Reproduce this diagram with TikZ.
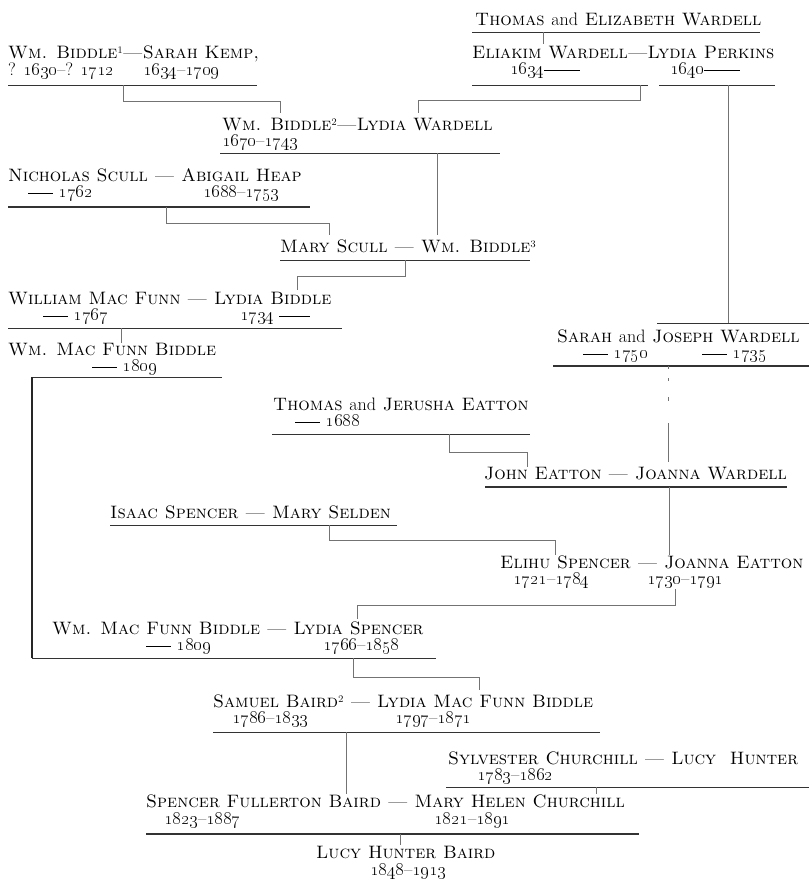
\RequirePackage{fix-cm}
\documentclass[tikz,border=0pt]{standalone}
\usepackage{tikz}

\newcommand\yr[1]{\oldstylenums{#1}}
\newcommand\chartfont{\fontsize{18}{20}\selectfont}
\newcommand\supnum[1]{{\fontsize{10}{10}\selectfont\raisebox{4.5pt}{#1}}}
\newcommand\ldash[1][25pt]{\rule[3.8pt]{#1}{0.6pt}}

\tikzset{
  person/.style={anchor=base west, inner sep=0pt, font=\chartfont\scshape},
  yrs/.style={anchor=base west, inner sep=0pt, font=\chartfont},
  uline/.style={line width=0.9pt, black!80},
  link/.style={line width=0.6pt, black!55},
  trunk/.style={line width=1.8pt, black!85}
}

\begin{document}
\begin{tikzpicture}[x=1pt,y=-1pt]
\useasboundingbox (0,0) rectangle (809,879);

% Wardell (top right)
\node[person] (twardell) at (475,25) {Thomas \textup{and} Elizabeth Wardell};
\draw[uline] (472,32) -- (760,32);
\coordinate (twardell-u) at (543,32);
\coordinate (ewardell-t) at (543,44);
\draw[link] (twardell-u) -- (ewardell-t);

\node[person] (ewardell) at (472,58) {Eliakim Wardell—Lydia Perkins};
\node[yrs] (ewardell-a) at (510,74) {\yr{1634}\ldash[36pt]};
\node[yrs] (ewardell-b) at (670,74) {\yr{1640}\ldash[36pt]};
\draw[uline] (472,85) -- (648,85);
\draw[uline] (659,85) -- (775,85);
\coordinate (ewardell-u) at (640,85);
\coordinate (ewardell-v) at (728,85);

% Biddle (top left)
\node[person] (biddleI) at (8,58) {Wm. Biddle\supnum{1}—Sarah Kemp,};
\node[yrs] (biddleI-a) at (8,75) {? \yr{1630}–? \yr{1712}};
\node[yrs] (biddleI-b) at (143,75) {\yr{1634}–\yr{1709}};
\draw[uline] (8,85) -- (257,85);
\coordinate (biddleI-u) at (123,85);

\node[person] (biddleII) at (222,130) {Wm. Biddle\supnum{2}—Lydia Wardell};
\node[yrs] (biddleII-a) at (222,146) {\yr{1670}–\yr{1743}};
\draw[uline] (220,153) -- (500,153);
\coordinate (biddleII-t) at (280,113);
\coordinate (biddleII-s) at (418,113);
\coordinate (biddleII-u) at (437,153);
\draw[link] (biddleI-u) -- ++(0,16) -| (biddleII-t);
\draw[link] (ewardell-u) -- ++(0,15) -| (biddleII-s);

% Scull
\node[person] (scull) at (8,181) {Nicholas Scull — Abigail Heap};
\node[yrs] (scull-a) at (28,197) {\ldash\ \yr{1762}};
\node[yrs] (scull-b) at (203,197) {\yr{1688}–\yr{1753}};
\draw[uline, line width=1.2pt] (8,207) -- (310,207);
\coordinate (scull-u) at (166,207);

\node[person] (mscull) at (280,252) {Mary Scull — Wm. Biddle\supnum{3}};
\draw[uline] (280,260) -- (530,260);
\coordinate (mscull-t) at (329,235);
\coordinate (mscull-s) at (437,235);
\coordinate (mscull-u) at (405,260);
\draw[link] (scull-u) -- ++(0,16) -| (mscull-t);
\draw[link] (biddleII-u) -- (mscull-s);

% Mac Funn
\node[person] (macfunn) at (8,304) {William Mac Funn — Lydia Biddle};
\node[yrs] (macfunn-a) at (43,320) {\ldash\ \yr{1767}};
\node[yrs] (macfunn-b) at (240,320) {\yr{1734} \ldash[31pt]};
\draw[uline] (8,328) -- (342,328);
\coordinate (macfunn-t) at (297,290);
\coordinate (macfunn-u) at (121,328);
\draw[link] (mscull-u) -- ++(0,16) -| (macfunn-t);

\node[person] (wmfb) at (8,355) {Wm. Mac Funn Biddle};
\node[yrs] (wmfb-a) at (92,371) {\ldash\ \yr{1809}};
\draw[uline] (32,377) -- (222,377);
\coordinate (wmfb-t) at (121,343);
\coordinate (wmfb-u) at (32,377);
\draw[link] (macfunn-u) -- (wmfb-t);

% Sarah and Joseph Wardell
\node[person] (jwardell) at (557,342) {Sarah \textup{and} Joseph Wardell};
\node[yrs] (jwardell-a) at (583,358) {\ldash\ \yr{1750}};
\node[yrs] (jwardell-b) at (702,358) {\ldash\ \yr{1735}};
\draw[uline] (657,323) -- (809,323);
\draw[uline, line width=1.2pt] (553,366) -- (809,366);
\coordinate (jwardell-t) at (728,323);
\coordinate (jwardell-u) at (668,366);
\draw[link] (ewardell-v) -- (jwardell-t);

% Eatton
\node[person] (teatton) at (273,410) {Thomas \textup{and} Jerusha Eatton};
\node[yrs] (teatton-a) at (295,426) {\ldash\ \yr{1688}};
\draw[uline] (272,434) -- (530,434);
\coordinate (teatton-u) at (449,434);

\node[person] (jeatton) at (484,479) {John Eatton — Joanna Wardell};
\draw[uline, line width=1.2pt] (485,487) -- (787,487);
\coordinate (jeatton-t) at (527,467);
\coordinate (jeatton-s) at (668,462);
\coordinate (jeatton-u) at (669,487);
\draw[link] (teatton-u) -- ++(0,18) -| (jeatton-t);
\draw[link, dash pattern=on 3pt off 9pt on 3pt off 16pt on 4pt off 22pt on 40pt] (jwardell-u) -- (jeatton-s);

% Spencer
\node[person] (ispencer) at (110,518) {Isaac Spencer — Mary Selden};
\draw[uline] (110,525) -- (397,525);
\coordinate (ispencer-u) at (329,525);

\node[person] (espencer) at (500,568) {Elihu Spencer — Joanna Eatton};
\node[yrs] (espencer-a) at (513,584) {\yr{1721}–\yr{1784}};
\node[yrs] (espencer-b) at (647,584) {\yr{1730}–\yr{1791}};
\coordinate (espencer-t) at (555,555);
\coordinate (espencer-s) at (669,555);
\coordinate (espencer-u) at (675,589);
\draw[link] (ispencer-u) -- ++(0,15) -| (espencer-t);
\draw[link] (jeatton-u) -- (espencer-s);

% Biddle and Spencer
\node[person] (wmfbII) at (52,634) {Wm. Mac Funn Biddle — Lydia Spencer};
\node[yrs] (wmfbII-a) at (146,650) {\ldash\ \yr{1809}};
\node[yrs] (wmfbII-b) at (323,650) {\yr{1766}–\yr{1858}};
\draw[uline] (32,658) -- (436,658);
\coordinate (wmfbII-t) at (357,619);
\coordinate (wmfbII-s) at (32,658);
\coordinate (wmfbII-u) at (353,658);
\draw[link] (espencer-u) -- ++(0,16) -| (wmfbII-t);
\draw[trunk] (wmfb-u) -- (wmfbII-s);

% Baird
\node[person] (sbaird) at (213,707) {Samuel Baird\supnum{2} — Lydia Mac Funn Biddle};
\node[yrs] (sbaird-a) at (232,723) {\yr{1786}–\yr{1833}};
\node[yrs] (sbaird-b) at (395,723) {\yr{1797}–\yr{1871}};
\draw[uline] (213,732) -- (600,732);
\coordinate (sbaird-t) at (479,690);
\coordinate (sbaird-u) at (346,732);
\draw[link] (wmfbII-u) -- ++(0,19) -| (sbaird-t);

\node[person] (church) at (448,764) {Sylvester Churchill — Lucy\ \ Hunter};
\node[yrs] (church-a) at (477,780) {\yr{1783}–\yr{1862}};
\draw[uline] (446,787) -- (809,787);
\coordinate (church-u) at (596,787);

\node[person] (sfbaird) at (146,807) {Spencer Fullerton Baird — Mary Helen Churchill};
\node[yrs] (sfbaird-a) at (164,824) {\yr{1823}–\yr{1887}};
\node[yrs] (sfbaird-b) at (434,824) {\yr{1821}–\yr{1891}};
\draw[uline, line width=1.4pt] (146,834) -- (639,834);
\coordinate (sfbaird-t) at (346,794);
\coordinate (sfbaird-s) at (596,794);
\coordinate (sfbaird-u) at (400,834);
\draw[link] (sbaird-u) -- (sfbaird-t);
\draw[link] (church-u) -- (sfbaird-s);

\node[person] (lhbaird) at (316,858) {Lucy Hunter Baird};
\node[yrs] (lhbaird-a) at (370,875) {\yr{1848}–\yr{1913}};
\coordinate (lhbaird-t) at (400,845);
\draw[link] (sfbaird-u) -- (lhbaird-t);

\end{tikzpicture}
\end{document}
